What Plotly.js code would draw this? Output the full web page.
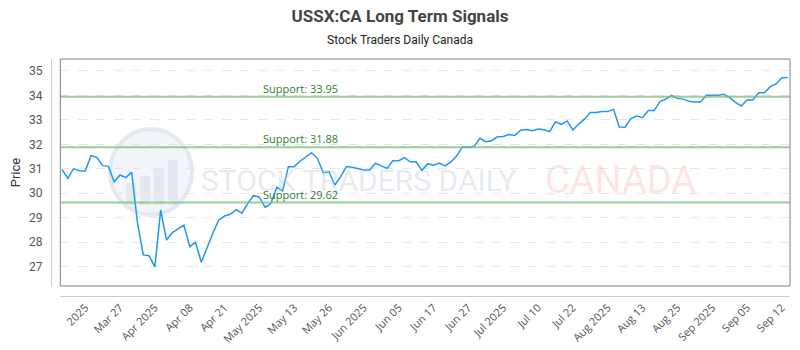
<!DOCTYPE html>
<html>
<head>
<meta charset="utf-8">
<script src="https://cdn.plot.ly/plotly-3.0.1.min.js"></script>
<style>html,body{margin:0;padding:0;background:#fff;}#chart{width:800px;height:350px;}</style>
</head>
<body>
<div id="chart"></div>
<script>
// Closing prices, one per trading session
const prices = [
  30.98, 30.61, 31.01, 30.92, 30.91, 31.54, 31.47, 31.13, 31.10, 30.47,
  30.75, 30.64, 30.86, 28.80, 27.48, 27.45, 26.99, 29.32, 28.09, 28.39,
  28.55, 28.70, 27.82, 28.00, 27.18, 27.80, 28.38, 28.91, 29.07, 29.14,
  29.33, 29.19, 29.59, 29.91, 29.84, 29.42, 29.59, 30.25, 30.09, 31.09,
  31.09, 31.31, 31.47, 31.66, 31.43, 30.84, 30.88, 30.34, 30.68, 31.09,
  31.06, 31.02, 30.95, 30.95, 31.23, 31.12, 31.02, 31.33, 31.33, 31.46,
  31.29, 31.29, 30.93, 31.21, 31.15, 31.24, 31.12, 31.28, 31.53, 31.90,
  31.87, 31.92, 32.25, 32.11, 32.15, 32.31, 32.32, 32.40, 32.36, 32.58,
  32.61, 32.56, 32.63, 32.60, 32.52, 32.92, 32.82, 32.96, 32.59, 32.83,
  33.03, 33.30, 33.30, 33.34, 33.34, 33.43, 32.71, 32.70, 33.05, 33.16,
  33.09, 33.38, 33.38, 33.75, 33.85, 34.00, 33.88, 33.85, 33.76, 33.73,
  33.73, 34.01, 34.01, 34.01, 34.05, 33.91, 33.72, 33.57, 33.81, 33.81,
  34.11, 34.11, 34.36, 34.47, 34.72, 34.73
];
const supportLevels = [33.95, 31.88, 29.62];
const tickIndex = [4, 10, 16, 22, 28, 34, 40, 46, 52, 58, 64, 70, 76, 82, 88, 94, 100, 106, 112, 118, 124];
const tickLabels = ["2025", "Mar 27", "Apr 2025", "Apr 08", "Apr 21", "May 2025", "May 13", "May 26",
  "Jun 2025", "Jun 05", "Jun 17", "Jun 27", "Jul 2025", "Jul 10", "Jul 22", "Aug 2025", "Aug 13",
  "Aug 25", "Sep 2025", "Sep 05", "Sep 12"];
const yTicks = [27, 28, 29, 30, 31, 32, 33, 34, 35];

const W = 800, H = 350, ML = 51, MR = 10, MT = 59, MB = 54;
const PW = W - ML - MR, PH = H - MT - MB;
const px = v => (v - ML) / PW;          // page x -> paper x
const py = v => (H - MB - v) / PH;      // page y -> paper y

const trace = {
  y: prices,
  type: 'scatter',
  mode: 'lines',
  line: {color: '#2196f3', width: 1.5},
  hoverinfo: 'y',
  showlegend: false
};

const shapes = [];
// watermark logo
shapes.push({type: 'circle', xref: 'paper', yref: 'paper', layer: 'below',
  x0: px(110), x1: px(192), y0: py(215), y1: py(129),
  fillcolor: 'rgba(230,235,244,0.5)', line: {color: 'rgba(214,221,234,0.6)', width: 4}});
[[126,183,136,205],[140,176,150,205],[154,168,164,205],[168,160,178,205]].forEach(b => {
  shapes.push({type: 'rect', xref: 'paper', yref: 'paper', layer: 'below',
    x0: px(b[0]), x1: px(b[2]), y0: py(b[3]), y1: py(b[1]),
    fillcolor: 'rgba(208,214,228,0.4)', line: {width: 0}});
});
// support lines
supportLevels.forEach(s => {
  shapes.push({type: 'line', xref: 'x domain', yref: 'y', x0: 0, x1: 1, y0: s, y1: s,
    line: {color: 'rgba(120,190,120,0.75)', width: 2}, layer: 'above'});
});
// plot box
shapes.push({type: 'rect', xref: 'x domain', yref: 'y domain', x0: 0, x1: 1, y0: 0, y1: 1,
  line: {color: '#808080', width: 1}, fillcolor: 'rgba(0,0,0,0)'});

const annotations = supportLevels.map(s => ({
  xref: 'x domain', yref: 'y', x: (261 - 60.3) / 729.7, y: s, xanchor: 'left', yanchor: 'bottom',
  text: 'Support: ' + s.toFixed(2), showarrow: false, yshift: -1,
  font: {family: 'Open Sans, sans-serif', size: 11, color: '#2e7d32'}
}));
annotations.push({xref: 'paper', yref: 'paper', x: 0.5 + (400 - ML - PW / 2) / PW, y: py(40),
  text: 'Stock Traders Daily Canada', showarrow: false, xanchor: 'center', yanchor: 'middle',
  font: {family: 'Roboto, sans-serif', size: 12, color: '#222'}});
annotations.push({xref: 'paper', yref: 'paper', x: px(199), y: py(180), xanchor: 'left', yanchor: 'middle',
  text: 'STOCK TRADERS DAILY', showarrow: false,
  font: {family: 'Roboto, sans-serif', size: 30, color: 'rgba(190,200,220,0.38)'}});
annotations.push({xref: 'paper', yref: 'paper', x: px(543), y: py(180), xanchor: 'left', yanchor: 'middle',
  text: 'CANADA', showarrow: false,
  font: {family: 'Roboto, sans-serif', size: 38, color: 'rgba(255,160,160,0.28)'}});

const layout = {
  width: W, height: H,
  margin: {l: ML, r: MR, t: MT, b: MB, pad: 0},
  paper_bgcolor: '#fff', plot_bgcolor: '#fff',
  title: {text: 'USSX:CA Long Term Signals', x: 0.5, xref: 'container', y: 1 - 16 / H, yref: 'container',
    yanchor: 'middle', font: {family: 'Roboto, sans-serif', size: 17, weight: 'bold', color: '#444'}},
  xaxis: {
    domain: [(60.3 - ML) / PW, 1],
    anchor: 'free', position: 0,
    range: [-0.29, 125.4],
    tickmode: 'array', tickvals: tickIndex, ticktext: tickLabels,
    tickangle: -45, ticks: '', showgrid: false, zeroline: false,
    showline: true, linecolor: '#cccccc', linewidth: 1,
    tickfont: {family: 'Open Sans, sans-serif', size: 11, color: '#555'}
  },
  yaxis: {
    domain: [10 / PH, 1],
    anchor: 'free', position: 0,
    range: [26.21, 35.49],
    tickmode: 'array', tickvals: yTicks,
    ticks: '', ticklabelstandoff: 6,
    showgrid: true, gridcolor: '#e6e6e6', griddash: 'dash', gridwidth: 1,
    zeroline: false, showline: true, linecolor: '#cccccc', linewidth: 1,
    tickfont: {family: 'Roboto, sans-serif', size: 12, color: '#555'},
    title: {text: 'Price', standoff: 4, font: {family: 'Roboto, sans-serif', size: 13, color: '#333'}}
  },
  shapes: shapes,
  annotations: annotations
};

Plotly.newPlot('chart', [trace], layout, {displayModeBar: false, staticPlot: true});
</script>
</body>
</html>
